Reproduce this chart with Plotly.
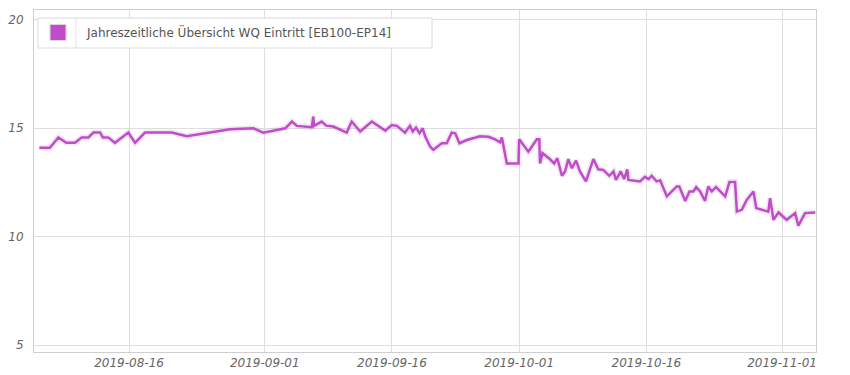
import plotly.graph_objects as go

series_name = "Jahreszeitliche Übersicht WQ Eintritt [EB100-EP14]"

dates = [
    "2019-08-05 10:00", "2019-08-06 16:00", "2019-08-07 16:00", "2019-08-08 14:00",
    "2019-08-09 15:00", "2019-08-10 10:00", "2019-08-11 05:00", "2019-08-11 19:00",
    "2019-08-12 14:00", "2019-08-12 22:00", "2019-08-13 13:00", "2019-08-14 08:00",
    "2019-08-15 22:00", "2019-08-16 17:00", "2019-08-17 21:00", "2019-08-21 01:00",
    "2019-08-22 19:00", "2019-08-27 22:00", "2019-08-30 16:00", "2019-08-31 20:00",
    "2019-09-03 10:00", "2019-09-04 05:00", "2019-09-04 19:00", "2019-09-06 13:00",
    "2019-09-06 17:30", "2019-09-06 19:30", "2019-09-07 17:00", "2019-09-08 06:00",
    "2019-09-09 02:00", "2019-09-09 21:00", "2019-09-10 16:00", "2019-09-11 06:00",
    "2019-09-12 06:00", "2019-09-13 15:00", "2019-09-14 14:00", "2019-09-15 05:00",
    "2019-09-15 23:30", "2019-09-16 14:00", "2019-09-17 13:00", "2019-09-18 03:00",
    "2019-09-18 11:00", "2019-09-18 20:00", "2019-09-19 06:00", "2019-09-19 15:00",
    "2019-09-19 22:00", "2019-09-20 12:00", "2019-09-20 21:00", "2019-09-21 21:00",
    "2019-09-22 11:00", "2019-09-23 01:00", "2019-09-23 11:00", "2019-09-23 23:00",
    "2019-09-24 20:00", "2019-09-26 09:00", "2019-09-27 09:00", "2019-09-28 04:00",
    "2019-09-28 18:00", "2019-09-28 23:00", "2019-09-29 13:00", "2019-09-30 22:00",
    "2019-10-01 00:00", "2019-10-02 02:00", "2019-10-03 02:00", "2019-10-03 09:00",
    "2019-10-03 11:00", "2019-10-03 18:00", "2019-10-04 16:00", "2019-10-05 03:00",
    "2019-10-05 12:00", "2019-10-06 01:00", "2019-10-06 10:00", "2019-10-06 19:00",
    "2019-10-07 05:00", "2019-10-07 17:00", "2019-10-08 04:00", "2019-10-08 21:00",
    "2019-10-09 18:00", "2019-10-10 08:00", "2019-10-10 22:00", "2019-10-11 15:00",
    "2019-10-12 03:00", "2019-10-12 10:00", "2019-10-12 23:30", "2019-10-13 09:00",
    "2019-10-13 18:00", "2019-10-13 21:00", "2019-10-15 06:00", "2019-10-15 20:00",
    "2019-10-16 06:00", "2019-10-16 15:00", "2019-10-17 05:00", "2019-10-17 15:00",
    "2019-10-18 10:00", "2019-10-19 14:00", "2019-10-19 21:00", "2019-10-20 14:00",
    "2019-10-21 02:00", "2019-10-21 13:00", "2019-10-21 21:00", "2019-10-22 08:00",
    "2019-10-22 22:00", "2019-10-23 07:00", "2019-10-23 17:00", "2019-10-24 05:00",
    "2019-10-24 17:00", "2019-10-25 07:00", "2019-10-25 19:00", "2019-10-26 11:00",
    "2019-10-26 16:00", "2019-10-27 06:00", "2019-10-27 20:00", "2019-10-28 15:00",
    "2019-10-28 23:00", "2019-10-30 09:00", "2019-10-30 14:00", "2019-10-30 23:30",
    "2019-10-31 14:00", "2019-11-01 13:00", "2019-11-02 13:00", "2019-11-02 22:00",
    "2019-11-03 17:00", "2019-11-04 22:00",
]

values = [
    14.09, 14.09, 14.57, 14.32,
    14.32, 14.57, 14.57, 14.79,
    14.79, 14.57, 14.57, 14.32,
    14.79, 14.32, 14.79, 14.79,
    14.62, 14.94, 14.99, 14.79,
    14.99, 15.30, 15.10, 15.04,
    15.53, 15.10, 15.30, 15.11,
    15.07, 14.92, 14.79, 15.30,
    14.84, 15.30, 15.07, 14.88,
    15.14, 15.10, 14.79, 15.10,
    14.84, 15.02, 14.76, 14.99,
    14.61, 14.15, 14.00, 14.30,
    14.30, 14.79, 14.76, 14.30,
    14.45, 14.62, 14.60, 14.48,
    14.34, 14.57, 13.37, 13.37,
    14.48, 13.91, 14.48, 14.48,
    13.37, 13.85, 13.55, 13.37,
    13.61, 12.80, 13.00, 13.57,
    13.15, 13.50, 13.00, 12.54,
    13.57, 13.10, 13.07, 12.80,
    13.00, 12.61, 13.00, 12.65,
    13.10, 12.61, 12.54, 12.75,
    12.65, 12.80, 12.54, 12.59,
    11.85, 12.31, 12.31, 11.64,
    12.08, 12.08, 12.28, 12.08,
    11.64, 12.31, 12.08, 12.28,
    12.08, 11.85, 12.51, 12.51,
    11.15, 11.23, 11.69, 12.08,
    11.31, 11.15, 11.77, 10.77,
    11.11, 10.77, 11.08, 10.50,
    11.08, 11.11,
]

y_ticks = [5, 10, 15, 20]
x_ticks = ["2019-08-16", "2019-09-01", "2019-09-16", "2019-10-01", "2019-10-16", "2019-11-01"]
x_range = ["2019-08-04 19:00", "2019-11-05 00:00"]
y_range = [4.68, 20.44]

line_color = "#C24BCC"
grid_color = "#DEDEDE"
tick_font = dict(family="DejaVu Sans", size=12, color="#666666", style="italic")

fig = go.Figure()

# soft shadow under the line
fig.add_trace(go.Scatter(
    x=dates, y=values, mode="lines",
    line=dict(color="rgba(140,90,140,0.13)", width=6),
    hoverinfo="skip", showlegend=False,
))
fig.add_trace(go.Scatter(
    x=dates, y=values, mode="lines",
    line=dict(color=line_color, width=2.5),
    name=series_name, showlegend=False,
))
# legend entry with square swatch
fig.add_trace(go.Scatter(
    x=[None], y=[None], mode="markers",
    marker=dict(symbol="square", size=16, color=line_color,
                line=dict(color="#D8D8D8", width=1)),
    name=series_name, showlegend=True,
))

# page body has an 8px margin; compensate so the plot lands where the reference has it
OFF = 8
PL, PR, PT, PB = 34, 816, 10, 352   # plot area in screenshot pixels
W, H = 850 - OFF, 375 - OFF
L = PL - OFF
T = PT - OFF
R = W - (PR - OFF)
B = H - (PB - OFF)
pw, ph = W - L - R, H - T - B

def px_x(px):
    return (px - PL) / pw

def px_y(py):
    return (PB - py) / ph

fig.add_shape(type="rect", xref="paper", yref="paper",
              x0=px_x(38), x1=px_x(432), y0=px_y(48), y1=px_y(18),
              fillcolor="white", line=dict(color="#DADADA", width=1), layer="above")
fig.add_shape(type="line", xref="paper", yref="paper",
              x0=px_x(76), x1=px_x(76), y0=px_y(48), y1=px_y(18),
              line=dict(color="#E2E2E2", width=1), layer="above")

fig.update_layout(
    width=W, height=H,
    margin=dict(l=L, r=R, t=T, b=B, autoexpand=False),
    paper_bgcolor="white", plot_bgcolor="white",
    showlegend=True,
    legend=dict(
        x=px_x(29), y=px_y(18), xanchor="left", yanchor="top",
        bgcolor="rgba(0,0,0,0)", borderwidth=0,
        font=dict(family="DejaVu Sans", size=12, color="#555555"),
        itemwidth=48,
    ),
    xaxis=dict(
        type="date", range=x_range,
        tickvals=x_ticks, ticktext=x_ticks,
        showgrid=True, gridcolor=grid_color, gridwidth=1,
        showline=True, linecolor="#CFCFCF", linewidth=1, mirror=True,
        zeroline=False, ticks="", tickfont=tick_font, automargin=False,
    ),
    yaxis=dict(
        range=y_range, tickvals=y_ticks,
        showgrid=True, gridcolor=grid_color, gridwidth=1,
        showline=True, linecolor="#CFCFCF", linewidth=1, mirror=True,
        zeroline=False, ticks="", tickfont=tick_font, automargin=False,
        ticklabelstandoff=7,
    ),
)

fig.write_html("out.html")
